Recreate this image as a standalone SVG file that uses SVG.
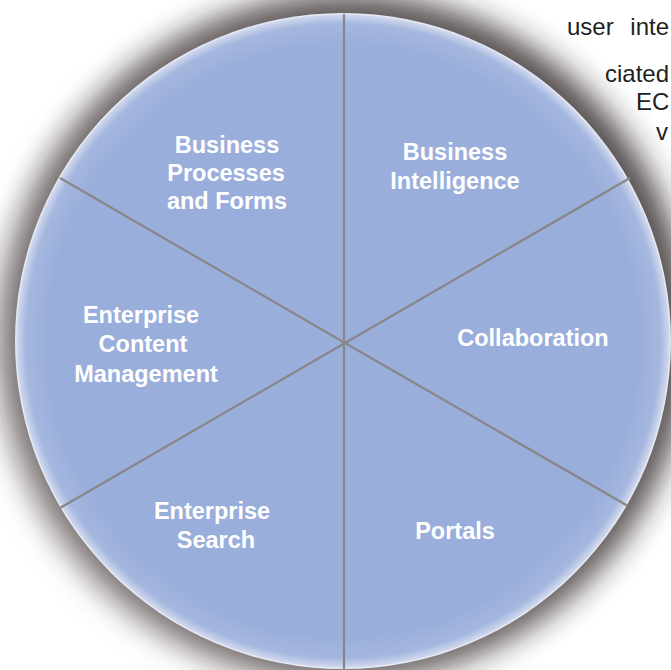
<svg xmlns="http://www.w3.org/2000/svg" width="671" height="670" viewBox="0 0 671 670">
<style>
.lbl{font-family:"Liberation Sans",Arial,sans-serif;font-weight:bold;font-size:23.5px;fill:#ffffff;text-anchor:middle}
.bg{font-family:"Liberation Sans",Arial,sans-serif;font-size:24px;fill:#231f20}
.div{stroke:#878787;stroke-width:2.2;fill:none}
</style>
<defs>
<radialGradient id="fill" cx="343" cy="341" r="327" gradientUnits="userSpaceOnUse">
<stop offset="0" stop-color="#9aaedb"/>
<stop offset="0.9" stop-color="#9aaedb"/>
<stop offset="0.97" stop-color="#a5b7df"/>
<stop offset="1" stop-color="#d3dbef"/>
</radialGradient>
<filter id="blur" x="-20%" y="-20%" width="140%" height="140%">
<feGaussianBlur stdDeviation="17"/>
</filter>
</defs>
<rect width="671" height="670" fill="#ffffff"/>
<g id="page-text">
<text class="bg" x="567" y="35" word-spacing="10">user inte</text>
<text class="bg" x="605" y="82">ciated</text>
<text class="bg" x="636" y="110">EC</text>
<text class="bg" x="656" y="140">v</text>
</g>
<g id="shadow">
<circle cx="350" cy="335" r="336" fill="#2e2626" filter="url(#blur)" opacity="0.95"/>
<circle cx="334" cy="344" r="336" fill="#7a7272" filter="url(#blur)" opacity="0.7"/>
</g>
<g id="wheel">
<circle cx="343" cy="341" r="328" fill="#e6e9f2"/>
<circle cx="343" cy="341" r="326.5" fill="url(#fill)"/>
</g>
<g id="connectors">
<line class="div" x1="344" y1="14" x2="344" y2="670"/>
<line class="div" x1="345" y1="343" x2="60" y2="178"/>
<line class="div" x1="345" y1="343" x2="630" y2="178"/>
<line class="div" x1="345" y1="343" x2="60" y2="508"/>
<line class="div" x1="345" y1="343" x2="628" y2="506"/>
</g>
<g id="business-processes">
<text class="lbl" x="227" y="153">Business</text>
<text class="lbl" x="226" y="181">Processes</text>
<text class="lbl" x="227" y="209">and Forms</text>
</g>
<g id="business-intelligence">
<text class="lbl" x="455" y="160">Business</text>
<text class="lbl" x="455" y="189">Intelligence</text>
</g>
<g id="collaboration">
<text class="lbl" x="533" y="346">Collaboration</text>
</g>
<g id="portals">
<text class="lbl" x="455" y="539">Portals</text>
</g>
<g id="enterprise-search">
<text class="lbl" x="212" y="519">Enterprise</text>
<text class="lbl" x="216" y="548">Search</text>
</g>
<g id="ecm">
<text class="lbl" x="141" y="323">Enterprise</text>
<text class="lbl" x="143" y="352">Content</text>
<text class="lbl" x="146" y="382">Management</text>
</g>
</svg>
